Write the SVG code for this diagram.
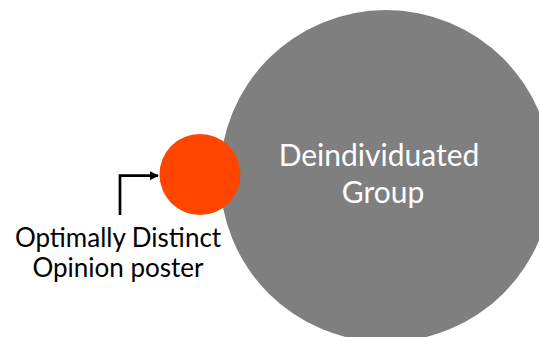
<svg xmlns="http://www.w3.org/2000/svg" width="539" height="337" viewBox="0 0 539 337">
<style>
.lbl{font-family:Lato,"Open Sans","Liberation Sans",sans-serif;text-anchor:middle}
.dark{fill:#000;font-size:26px}
.light{fill:#fff;font-size:30px}
.conn{fill:none;stroke:#000;stroke-width:2.7}
</style>
<defs>
<marker id="arr" viewBox="0 0 10 10" refX="9" refY="5" markerWidth="3.4" markerHeight="3.4" orient="auto" markerUnits="strokeWidth">
<path d="M0,0 L10,5 L0,10 z" fill="#000"/>
</marker>
</defs>
<rect width="539" height="337" fill="#fff"/>
<g id="group">
<circle cx="386" cy="176" r="166" fill="#7f7f7f"/>
<text class="lbl light" x="379" y="166">Deindividuated</text>
<text class="lbl light" x="383" y="203">Group</text>
</g>
<g id="poster">
<circle cx="200" cy="174.5" r="40.5" fill="#ff4500"/>
</g>
<g id="poster-label">
<text class="lbl dark" x="118" y="247">Optimally Distinct</text>
<text class="lbl dark" x="118" y="277">Opinion poster</text>
</g>
<g id="connectors">
<path class="conn" d="M120,215 V175.7 H158" marker-end="url(#arr)"/>
</g>
</svg>
